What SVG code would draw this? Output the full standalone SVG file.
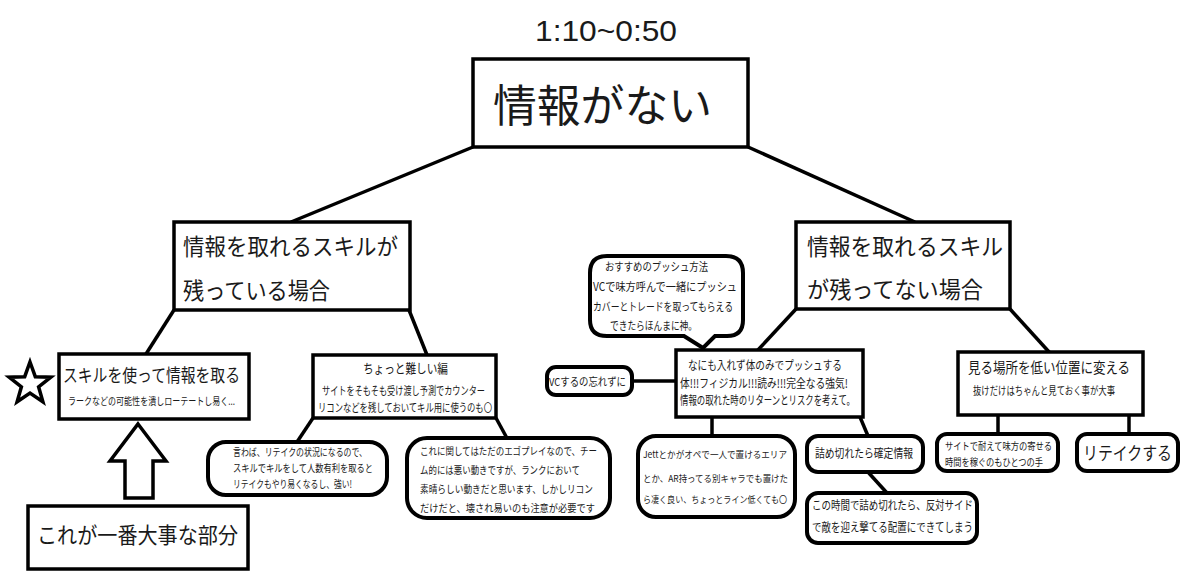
<svg xmlns="http://www.w3.org/2000/svg" width="1200" height="586" viewBox="0 0 1200 586">
<style>
.box{fill:#fff;stroke:#000;stroke-width:3.5}
.rb{fill:#fff;stroke:#000;stroke-width:4}
.ln{stroke:#000;stroke-width:3.5;fill:none}
text{font-family:"Noto Sans CJK JP","Noto Sans",sans-serif;fill:#1a1a1a}
.t{font-family:"Liberation Sans","Noto Sans",sans-serif}
</style>
<rect width="1200" height="586" fill="#fff"/>
<g id="connectors">
<line class="ln" x1="473" y1="147" x2="291" y2="222"/>
<line class="ln" x1="748" y1="147" x2="915" y2="222"/>
<line class="ln" x1="174" y1="310" x2="146" y2="354"/>
<line class="ln" x1="409" y1="310" x2="427" y2="355"/>
<line class="ln" x1="313" y1="418" x2="297" y2="442"/>
<line class="ln" x1="496" y1="418" x2="508" y2="440"/>
<line class="ln" x1="796" y1="309" x2="757" y2="351"/>
<line class="ln" x1="1010" y1="309" x2="1050" y2="353"/>
<line class="ln" x1="632" y1="381" x2="676" y2="381"/>
<line class="ln" x1="712" y1="417" x2="712" y2="436"/>
<line class="ln" x1="860" y1="417" x2="868" y2="436"/>
<line class="ln" x1="867" y1="471" x2="887" y2="493"/>
<line class="ln" x1="998" y1="415" x2="998" y2="434"/>
<line class="ln" x1="1129" y1="415" x2="1129" y2="434"/>
</g>
<g id="title"><text class="t" x="535" y="41" font-size="30" textLength="142" lengthAdjust="spacingAndGlyphs">1:10~0:50</text></g>
<g id="root">
<rect class="box" x="473" y="59" width="275" height="88"/>
<text x="493" y="122" font-size="44" textLength="219" lengthAdjust="spacingAndGlyphs">情報がない</text>
</g>
<g id="left">
<rect class="box" x="174" y="222" width="236" height="88"/>
<text x="183" y="255" font-size="23" textLength="215" lengthAdjust="spacingAndGlyphs">情報を取れるスキルが</text>
<text x="183" y="299" font-size="23" textLength="147" lengthAdjust="spacingAndGlyphs">残っている場合</text>
</g>
<g id="right">
<rect class="box" x="796" y="222" width="214" height="87"/>
<text x="807" y="255" font-size="23" textLength="196" lengthAdjust="spacingAndGlyphs">情報を取れるスキル</text>
<text x="807" y="298" font-size="23" textLength="176" lengthAdjust="spacingAndGlyphs">が残ってない場合</text>
</g>
<g id="star"><polygon points="30,362 35.3,376.7 50.9,377.2 38.6,386.8 42.9,401.8 30,393 17.1,401.8 21.4,386.8 9.1,377.2 24.7,376.7" fill="#fff" stroke="#000" stroke-width="3.5" stroke-linejoin="miter"/></g>
<g id="skill">
<rect class="box" x="59" y="354" width="190" height="65"/>
<text x="63" y="382" font-size="18" textLength="177" lengthAdjust="spacingAndGlyphs">スキルを使って情報を取る</text>
<text x="68" y="405" font-size="10.5" textLength="167" lengthAdjust="spacingAndGlyphs">ラークなどの可能性を潰しローテートし易く...</text>
</g>
<g id="arrow"><polygon points="138,424 166,461 153,461 153,498 125,498 125,461 110,461" fill="#fff" stroke="#000" stroke-width="3.5"/></g>
<g id="important">
<rect class="box" x="28" y="506" width="220" height="63"/>
<text x="37" y="543" font-size="22" textLength="201" lengthAdjust="spacingAndGlyphs">これが一番大事な部分</text>
</g>
<g id="hard">
<rect class="box" x="313" y="355" width="183" height="63"/>
<text x="363" y="373" font-size="13" textLength="85" lengthAdjust="spacingAndGlyphs">ちょっと難しい編</text>
<text x="322" y="395" font-size="11.5" textLength="163" lengthAdjust="spacingAndGlyphs">サイトをそもそも受け渡し予測でカウンター</text>
<text x="318" y="412" font-size="11.5" textLength="174" lengthAdjust="spacingAndGlyphs">リコンなどを残しておいてキル用に使うのも〇</text>
</g>
<g id="iwaba">
<rect class="rb" x="208" y="442" width="179" height="53" rx="18"/>
<text x="233" y="456" font-size="10.5" textLength="134" lengthAdjust="spacingAndGlyphs">言わば、リテイクの状況になるので、</text>
<text x="233" y="472" font-size="10.5" textLength="140" lengthAdjust="spacingAndGlyphs">スキルでキルをして人数有利を取ると</text>
<text x="233" y="488" font-size="10.5" textLength="119" lengthAdjust="spacingAndGlyphs">リテイクもやり易くなるし、強い!</text>
</g>
<g id="ego">
<rect class="rb" x="407" y="438" width="203" height="80" rx="20"/>
<text x="420" y="455" font-size="10.5" textLength="177" lengthAdjust="spacingAndGlyphs">これに関してはただのエゴプレイなので、チー</text>
<text x="420" y="474" font-size="10.5" textLength="160" lengthAdjust="spacingAndGlyphs">ム的には悪い動きですが、ランクにおいて</text>
<text x="420" y="493" font-size="10.5" textLength="173" lengthAdjust="spacingAndGlyphs">素晴らしい動きだと思います、しかしリコン</text>
<text x="420" y="512" font-size="10.5" textLength="175" lengthAdjust="spacingAndGlyphs">だけだと、壊され易いのも注意が必要です</text>
</g>
<g id="osusume">
<path class="rb" d="M607,256 H726 Q743,256 743,273 V320 Q743,336 727,336 H715 L703,348 L684,336 H607 Q590,336 590,320 V273 Q590,256 607,256 Z"/>
<text x="605" y="271" font-size="11.5" textLength="103" lengthAdjust="spacingAndGlyphs">おすすめのプッシュ方法</text>
<text x="593" y="291" font-size="11.5" textLength="144" lengthAdjust="spacingAndGlyphs">VCで味方呼んで一緒にプッシュ</text>
<text x="593" y="311" font-size="11.5" textLength="140" lengthAdjust="spacingAndGlyphs">カバーとトレードを取ってもらえる</text>
<text x="610" y="330" font-size="11.5" textLength="87" lengthAdjust="spacingAndGlyphs">できたらほんまに神。</text>
</g>
<g id="vc">
<rect class="rb" x="547" y="367" width="85" height="28" rx="9"/>
<text x="549" y="386" font-size="11" textLength="77" lengthAdjust="spacingAndGlyphs">VCするの忘れずに</text>
</g>
<g id="push">
<rect class="box" x="676" y="350" width="187" height="67"/>
<text x="688" y="370" font-size="12" textLength="154" lengthAdjust="spacingAndGlyphs">なにも入れず体のみでプッシュする</text>
<text x="680" y="388" font-size="12" textLength="168" lengthAdjust="spacingAndGlyphs">体!!!フィジカル!!!読み!!!完全なる強気!</text>
<text x="680" y="405" font-size="12" textLength="175" lengthAdjust="spacingAndGlyphs">情報の取れた時のリターンとリスクを考えて。</text>
</g>
<g id="jett">
<rect class="rb" x="638" y="436" width="157" height="81" rx="18"/>
<text x="643" y="458" font-size="9.3" textLength="144" lengthAdjust="spacingAndGlyphs">Jettとかがオペで一人で置けるエリア</text>
<text x="643" y="482" font-size="9.3" textLength="145" lengthAdjust="spacingAndGlyphs">とか、AR持ってる別キャラでも置けた</text>
<text x="643" y="503" font-size="9.3" textLength="144" lengthAdjust="spacingAndGlyphs">ら凄く良い、ちょっとライン低くても〇</text>
</g>
<g id="tsume">
<rect class="rb" x="807" y="436" width="116" height="36" rx="11"/>
<text x="815" y="458" font-size="12" textLength="98" lengthAdjust="spacingAndGlyphs">詰め切れたら確定情報</text>
</g>
<g id="kono">
<rect class="rb" x="807" y="493" width="170" height="50" rx="11"/>
<text x="812" y="510" font-size="12" textLength="161" lengthAdjust="spacingAndGlyphs">この時間で詰め切れたら、反対サイド</text>
<text x="812" y="532" font-size="12" textLength="161" lengthAdjust="spacingAndGlyphs">で敵を迎え撃てる配置にできてしまう</text>
</g>
<g id="miru">
<rect class="box" x="958" y="352" width="185" height="63"/>
<text x="968" y="373" font-size="15" textLength="162" lengthAdjust="spacingAndGlyphs">見る場所を低い位置に変える</text>
<text x="973" y="395" font-size="11" textLength="142" lengthAdjust="spacingAndGlyphs">抜けだけはちゃんと見ておく事が大事</text>
</g>
<g id="site">
<rect class="rb" x="937" y="434" width="121" height="37" rx="10"/>
<text x="945" y="450" font-size="10.2" textLength="107" lengthAdjust="spacingAndGlyphs">サイトで耐えて味方の寄せる</text>
<text x="945" y="466" font-size="10.2" textLength="98" lengthAdjust="spacingAndGlyphs">時間を稼ぐのもひとつの手</text>
</g>
<g id="retake">
<rect class="rb" x="1077" y="434" width="101" height="37" rx="10"/>
<text x="1083" y="460" font-size="18" textLength="89" lengthAdjust="spacingAndGlyphs">リテイクする</text>
</g>
</svg>
